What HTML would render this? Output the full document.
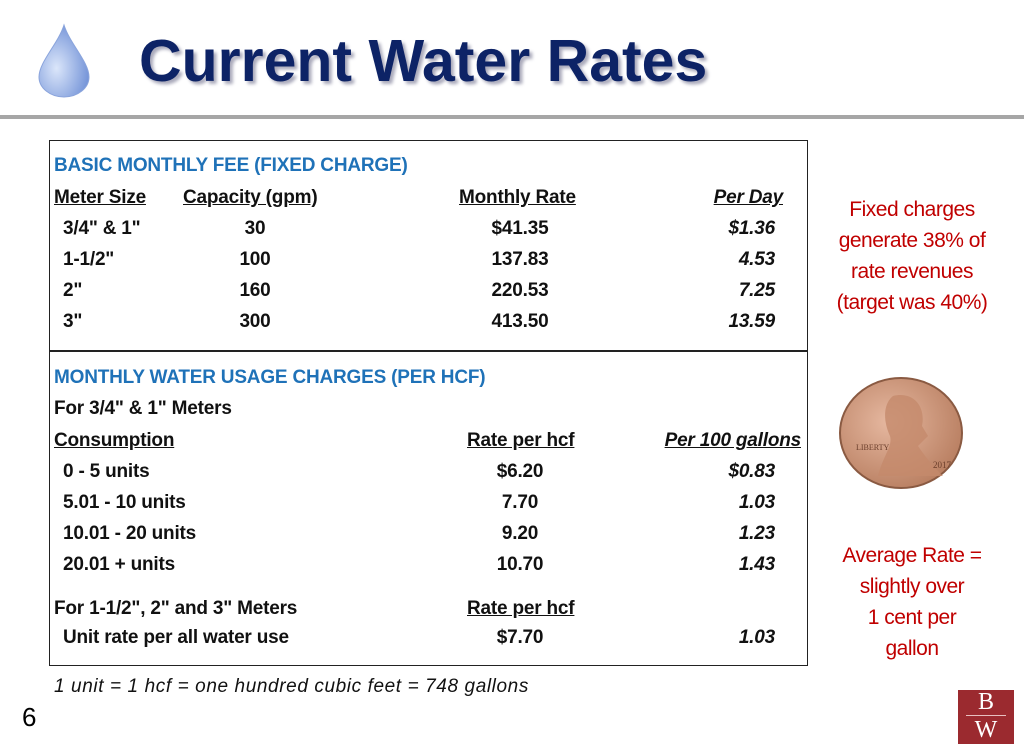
<!DOCTYPE html>
<html><head><meta charset="utf-8"><style>
body{margin:0;width:1024px;height:754px;background:#fff;position:relative;overflow:hidden;font-family:"Liberation Sans",sans-serif}
.t{position:absolute;line-height:22px;font-size:19px;font-weight:bold;color:#111;white-space:nowrap;letter-spacing:-0.2px}
.r{text-align:right}
.c{text-align:center}
.u{text-decoration:underline}
.i{font-style:italic}
.b{color:#1f72b8}
.red{position:absolute;color:#c00000;font-size:21px;text-align:center;line-height:31px;font-family:"Liberation Sans",sans-serif;letter-spacing:-0.5px}
</style></head><body>
<svg style="position:absolute;left:36px;top:22px" width="56" height="76">
<defs><radialGradient id="g" cx="0.35" cy="0.6" r="0.7"><stop offset="0" stop-color="#dbe6fa"/><stop offset="1" stop-color="#6e8fd6"/></radialGradient></defs>
<path d="M28 3 C22 22 3 40 3 55 A25 20 0 0 0 53 55 C53 40 34 22 28 3Z" fill="url(#g)" stroke="#8aa4dc"/></svg>
<div style="position:absolute;left:139px;top:28px;font-size:59px;font-weight:bold;color:#0d2366;letter-spacing:0px;text-shadow:3px 3px 3px #aab;line-height:66px">Current Water Rates</div>
<div style="position:absolute;left:0;top:115px;width:1024px;height:4px;background:#a6a6a6"></div>
<div style="position:absolute;left:49px;top:140px;width:757px;height:524px;border:1.5px solid #222"></div>
<div style="position:absolute;left:49px;top:350px;width:759px;height:1.5px;background:#222"></div>

<div class="t b" style="left:54px;top:155px">BASIC MONTHLY FEE (FIXED CHARGE)</div>
<div class="t u" style="left:54px;top:187px">Meter Size</div>
<div class="t u" style="left:183px;top:187px">Capacity (gpm)</div>
<div class="t u" style="left:459px;top:187px">Monthly Rate</div>
<div class="t u i r" style="right:241px;top:187px">Per Day</div>

<div class="t" style="left:63px;top:218px">3/4" &amp; 1"</div><div class="t c" style="left:215px;width:80px;top:218px">30</div><div class="t c" style="left:470px;width:100px;top:218px">$41.35</div><div class="t i r" style="right:249px;top:218px">$1.36</div>
<div class="t" style="left:63px;top:249px">1-1/2"</div><div class="t c" style="left:215px;width:80px;top:249px">100</div><div class="t c" style="left:470px;width:100px;top:249px">137.83</div><div class="t i r" style="right:249px;top:249px">4.53</div>
<div class="t" style="left:63px;top:280px">2"</div><div class="t c" style="left:215px;width:80px;top:280px">160</div><div class="t c" style="left:470px;width:100px;top:280px">220.53</div><div class="t i r" style="right:249px;top:280px">7.25</div>
<div class="t" style="left:63px;top:311px">3"</div><div class="t c" style="left:215px;width:80px;top:311px">300</div><div class="t c" style="left:470px;width:100px;top:311px">413.50</div><div class="t i r" style="right:249px;top:311px">13.59</div>

<div class="t b" style="left:54px;top:367px">MONTHLY WATER USAGE CHARGES (PER HCF)</div>
<div class="t" style="left:54px;top:398px">For 3/4" &amp; 1" Meters</div>
<div class="t u" style="left:54px;top:430px">Consumption</div>
<div class="t u" style="left:467px;top:430px">Rate per hcf</div>
<div class="t u i r" style="right:223px;top:430px">Per 100 gallons</div>
<div class="t" style="left:63px;top:461px">0 - 5 units</div><div class="t c" style="left:470px;width:100px;top:461px">$6.20</div><div class="t i r" style="right:249px;top:461px">$0.83</div>
<div class="t" style="left:63px;top:492px">5.01 - 10 units</div><div class="t c" style="left:470px;width:100px;top:492px">7.70</div><div class="t i r" style="right:249px;top:492px">1.03</div>
<div class="t" style="left:63px;top:523px">10.01 - 20 units</div><div class="t c" style="left:470px;width:100px;top:523px">9.20</div><div class="t i r" style="right:249px;top:523px">1.23</div>
<div class="t" style="left:63px;top:554px">20.01 + units</div><div class="t c" style="left:470px;width:100px;top:554px">10.70</div><div class="t i r" style="right:249px;top:554px">1.43</div>
<div class="t" style="left:54px;top:598px">For 1-1/2", 2" and 3" Meters</div><div class="t u" style="left:467px;top:598px">Rate per hcf</div>
<div class="t" style="left:63px;top:627px">Unit rate per all water use</div><div class="t c" style="left:470px;width:100px;top:627px">$7.70</div><div class="t i r" style="right:249px;top:627px">1.03</div>

<div class="t i" style="left:54px;top:676px;font-weight:normal;letter-spacing:0.6px">1 unit = 1 hcf = one hundred cubic feet = 748 gallons</div>
<div style="position:absolute;left:22px;top:700px;font-size:26px;line-height:34px">6</div>

<div class="red" style="left:812px;top:194px;width:200px">Fixed charges<br>generate 38% of<br>rate revenues<br>(target was 40%)</div>
<svg style="position:absolute;left:838px;top:376px" width="126" height="114">
<defs><radialGradient id="p" cx="0.4" cy="0.4" r="0.7"><stop offset="0" stop-color="#e6b8a0"/><stop offset="1" stop-color="#b57a5c"/></radialGradient></defs>
<ellipse cx="63" cy="57" rx="61" ry="55" fill="url(#p)" stroke="#8a5a42" stroke-width="2"/>
<path d="M55 20 C75 15 88 30 84 50 L90 60 L80 70 C90 85 100 95 105 100 L40 100 C45 80 55 70 52 60 C45 45 45 28 55 20Z" fill="#c48a6c" opacity="0.8"/>
<text x="18" y="74" font-size="8" fill="#6b3e2b" font-family="Liberation Serif">LIBERTY</text>
<text x="95" y="92" font-size="9" fill="#6b3e2b" font-family="Liberation Serif">2017</text>
</svg>
<div class="red" style="left:812px;top:540px;width:200px">Average Rate =<br>slightly over<br>1 cent per<br>gallon</div>
<div style="position:absolute;left:958px;top:690px;width:56px;height:54px;background:#9b2a2f;color:#fff;font-family:'Liberation Serif',serif;font-size:24px;text-align:center;line-height:24px">B<div style="height:1px;background:#e8c0c0;margin:1px 8px 2px"></div>W</div>
</body></html>
